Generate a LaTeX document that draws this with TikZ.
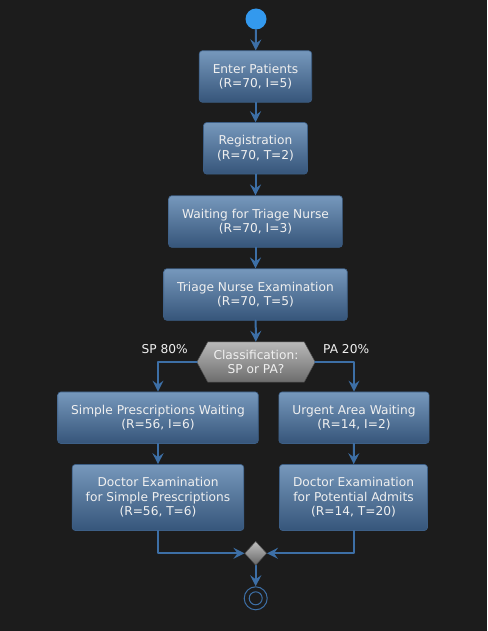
\documentclass[tikz,border=0pt]{standalone}
\usepackage{fontspec}
\setmainfont{DejaVu Sans}
\usetikzlibrary{arrows.meta,shapes.geometric,backgrounds}
\definecolor{bgc}{HTML}{1C1C1C}
\definecolor{flowc}{HTML}{3D6FA6}
\definecolor{boxtop}{HTML}{7698BC}
\definecolor{boxbot}{HTML}{36557A}
\definecolor{boxline}{HTML}{3D5F86}
\definecolor{startc}{HTML}{3399EE}
\definecolor{txtc}{HTML}{F0F0F0}
\tikzset{
 activity/.style={rectangle,rounded corners=3pt,draw=boxline,line width=0.6pt,top color=boxtop,bottom color=boxbot,text=txtc,align=center,inner xsep=13.5pt,inner ysep=0pt,minimum height=51.5pt},
 flow/.style={draw=flowc,line width=2pt,-{Stealth[length=11pt,width=11pt,inset=4pt]}},
 branchlabel/.style={text=txtc,inner sep=0pt}
}
\begin{document}
\begin{tikzpicture}[x=1pt,y=-1pt,font=\fontsize{12.2}{14.6}\selectfont,line join=round,line cap=round]
 \begin{scope}[on background layer]
  \fill[bgc] (0,0) rectangle (487,631);
 \end{scope}
 \fill[startc] (256,19) circle(10.5);
 \node[circle,minimum size=21pt,inner sep=0pt] (begin) at (256,19) {};
 \node[activity] (enter) at (255.5,76.5) {Enter Patients\\(R=70, I=5)};
 \node[activity] (reg) at (255.5,148.3) {Registration\\(R=70, T=2)};
 \node[activity] (wait) at (255.5,221.5) {Waiting for Triage Nurse\\(R=70, I=3)};
 \node[activity] (triage) at (255.5,294.5) {Triage Nurse Examination\\(R=70, T=5)};
 \node[text=txtc,minimum width=118pt,minimum height=40pt,align=center,inner sep=0pt] (cls) at (256,362) {Classification:\\SP or PA?};
 \begin{scope}[on background layer]
  \shade[top color=gray!55,bottom color=gray!85!black,draw=gray!60!black,line width=0.5pt]
   (cls.west) -- ([xshift=11pt]cls.north west) -- ([xshift=-11pt]cls.north east) -- (cls.east)
   -- ([xshift=-11pt]cls.south east) -- ([xshift=11pt]cls.south west) -- cycle;
 \end{scope}
 \node[activity] (spw) at (158,417.7) {Simple Prescriptions Waiting\\(R=56, I=6)};
 \node[activity] (uaw) at (354,417.7) {Urgent Area Waiting\\(R=14, I=2)};
 \node[activity,minimum height=66pt] (dsp) at (158,497.5) {Doctor Examination\\for Simple Prescriptions\\(R=56, T=6)};
 \node[activity,minimum height=66pt] (dpa) at (353.5,497.5) {Doctor Examination\\for Potential Admits\\(R=14, T=20)};
 \node[diamond,minimum width=22pt,minimum height=24pt,inner sep=0pt,top color=gray!50,bottom color=gray!80!black,draw=gray!60!black,line width=0.5pt] (merge) at (255.7,553.3) {};
 \node[circle,draw=flowc,line width=1pt,minimum size=23pt,inner sep=0pt] (stop) at (255.7,598.3) {};
 \draw[flowc,line width=1pt] (stop.center) circle(6.5);
 % connectors
 \draw[flow] (begin) -- (enter);
 \draw[flow] (enter) -- (reg);
 \draw[flow] (reg) -- (wait);
 \draw[flow] (wait) -- (triage);
 \draw[flow] (triage) -- (cls);
 \draw[flow] (cls.west) node[branchlabel,anchor=base east,xshift=-8pt,yshift=8.6pt] {SP 80\%} -| (spw.north);
 \draw[flow] (cls.east) node[branchlabel,anchor=base west,xshift=7pt,yshift=8.6pt] {PA 20\%} -| (uaw.north);
 \draw[flow] (spw) -- (dsp);
 \draw[flow] (uaw) -- (dpa);
 \draw[flow] (dsp.south) |- (merge.west);
 \draw[flow] (dpa.south) |- (merge.east);
 \draw[flow] (merge) -- (stop);
\end{tikzpicture}
\end{document}
